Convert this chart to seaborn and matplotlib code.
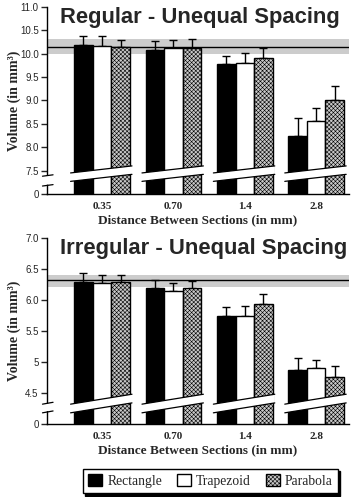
import numpy as np
import pandas as pd
import matplotlib
matplotlib.use('Agg')
import matplotlib.pyplot as plt
import matplotlib.transforms as mtransforms
import seaborn as sns

spacing = ["0.35", "0.70", "1.4", "2.8"]
methods = ["Rectangle", "Trapezoid", "Parabola"]

# Regular - unequal spacing (mm^3)
reg_rect = [10.18, 10.09, 9.77, 8.23]
reg_trap = [10.16, 10.12, 9.81, 8.57]
reg_parab = [10.14, 10.13, 9.91, 9.02]
reg_rect_err = [0.19, 0.19, 0.19, 0.40]
reg_trap_err = [0.21, 0.18, 0.21, 0.27]
reg_parab_err = [0.16, 0.18, 0.22, 0.29]
reg_true = 10.14
reg_band = (10.00, 10.31)

# Irregular - unequal spacing (mm^3)
irr_rect = [6.29, 6.20, 5.74, 4.87]
irr_trap = [6.27, 6.15, 5.74, 4.90]
irr_parab = [6.29, 6.19, 5.93, 4.76]
irr_rect_err = [0.14, 0.12, 0.14, 0.19]
irr_trap_err = [0.13, 0.12, 0.17, 0.14]
irr_parab_err = [0.12, 0.12, 0.16, 0.18]
irr_true = 6.32
irr_band = (6.21, 6.40)

reg_ticks = [7.0, 7.5, 8.0, 8.5, 9.0, 9.5, 10.0, 10.5, 11.0]
reg_ticklabels = ["0", "7.5", "8.0", "8.5", "9.0", "9.5", "10.0", "10.5", "11.0"]
irr_ticks = [4.0, 4.5, 5.0, 5.5, 6.0, 6.5, 7.0]
irr_ticklabels = ["0", "4.5", "5", "5.5", "6.0", "6.5", "7.0"]

sns.set_style('ticks')
plt.rcParams['font.family'] = ['Liberation Sans', 'DejaVu Sans']
plt.rcParams['hatch.color'] = '#555555'
plt.rcParams['hatch.linewidth'] = 0.4

colors = ['black', 'white', '#c8c8c8']

fig = plt.figure(figsize=(3.57, 4.97), dpi=100)
ax1 = fig.add_axes([0.1317, 0.6097, 0.846, 0.3763])
ax2 = fig.add_axes([0.1317, 0.1469, 0.846, 0.3742])


def panel(ax, vals, errs, true_val, band, ticks, ticklabels, title,
          brk_bottom, brk_thick, brk_rise, ax_brk):
    df = pd.DataFrame({
        'spacing': spacing * 3,
        'method': np.repeat(methods, 4),
        'volume': np.concatenate(vals),
    })
    sns.barplot(data=df, x='spacing', y='volume', hue='method', hue_order=methods,
                palette=colors, edgecolor='black', linewidth=1.0, width=0.78,
                errorbar=None, legend=False, ax=ax, zorder=2, saturation=1)
    for k, (cont, err) in enumerate(zip(ax.containers, errs)):
        if k == 2:
            for p in cont.patches:
                p.set_hatch('xxxxxxxx')
        xs = [p.get_x() + p.get_width() / 2 for p in cont.patches]
        ys = [p.get_height() for p in cont.patches]
        ax.errorbar(xs, ys, yerr=[np.zeros(len(err)), err], fmt='none',
                    ecolor='black', elinewidth=1.0, capsize=3, capthick=1.0, zorder=1.5)

    ax.axhspan(band[0], band[1], color='#cccccc', zorder=0.5, lw=0)
    ax.axhline(true_val, color='black', lw=1.0, zorder=0.6)

    ax.set_xlim(-0.77, 3.46)
    ax.set_ylim(ticks[0], ticks[-1])
    ax.set_yticks(ticks)
    ax.set_yticklabels(ticklabels, fontsize=7)
    ax.set_xticks(range(4))
    ax.set_xticklabels(spacing, fontsize=8, fontweight='bold', family='Liberation Serif')
    ax.tick_params(axis='x', length=0, pad=6)
    ax.tick_params(axis='y', length=4, width=1, pad=2)
    for s in ['top', 'right']:
        ax.spines[s].set_visible(False)
    for s in ['left', 'bottom']:
        ax.spines[s].set_linewidth(1.0)
        ax.spines[s].set_color('black')
    ax.set_xlabel('Distance Between Sections (in mm)', fontsize=9.5,
                  fontweight='bold', family='Liberation Serif', labelpad=2)
    ax.set_ylabel('Volume (in mm³)', fontsize=10, fontweight='bold',
                  family='Liberation Serif')
    ax.yaxis.set_label_coords(-0.085, 0.5)
    ax.text(0.043, 1.0, title, transform=ax.transAxes, ha='left', va='top',
            fontsize=15.8, fontweight='bold')

    # broken-axis bands across each group of bars
    for i in range(4):
        x0, x1 = i - 0.44, i + 0.42
        xs = [x0, x1, x1, x0]
        ys = [brk_bottom, brk_bottom + brk_rise,
              brk_bottom + brk_rise + brk_thick, brk_bottom + brk_thick]
        ax.fill(xs, ys, color='white', zorder=3, lw=0)
        ax.plot([x0, x1], [brk_bottom, brk_bottom + brk_rise], color='black', lw=0.9, zorder=3.1)
        ax.plot([x0, x1], [brk_bottom + brk_thick, brk_bottom + brk_thick + brk_rise],
                color='black', lw=0.9, zorder=3.1)

    # break on the y-axis
    tr = mtransforms.blended_transform_factory(ax.transAxes, ax.transData)
    lo, hi = ax_brk
    ax.fill([-0.02, 0.03, 0.03, -0.02], [lo + 0.02, lo + 0.04, hi + 0.02, hi],
            color='white', transform=tr, clip_on=False, zorder=4, lw=0)
    ax.plot([-0.015, 0.02], [lo, lo + 0.03], color='black', lw=0.9,
            transform=tr, clip_on=False, zorder=4.1)
    ax.plot([-0.015, 0.02], [hi, hi + 0.03], color='black', lw=0.9,
            transform=tr, clip_on=False, zorder=4.1)


panel(ax1, [reg_rect, reg_trap, reg_parab], [reg_rect_err, reg_trap_err, reg_parab_err],
      reg_true, reg_band, reg_ticks, reg_ticklabels, 'Regular - Unequal Spacing',
      7.27, 0.18, 0.15, (7.17, 7.38))
panel(ax2, [irr_rect, irr_trap, irr_parab], [irr_rect_err, irr_trap_err, irr_parab_err],
      irr_true, irr_band, irr_ticks, irr_ticklabels, 'Irregular - Unequal Spacing',
      4.18, 0.14, 0.16, (4.18, 4.32))

handles = list(ax2.containers[:3])
leg = fig.legend(handles, methods, loc='center', bbox_to_anchor=(0.59, 0.032),
                 ncol=3, frameon=True, fancybox=False,
                 shadow={'color': 'black', 'alpha': 1, 'ox': 1.5, 'oy': -1.5},
                 edgecolor='black', handlelength=1.0, handleheight=1.0,
                 handletextpad=0.4, columnspacing=1.1, borderpad=0.4,
                 prop={'family': 'Liberation Serif', 'size': 9.8})
leg.get_frame().set_linewidth(1.0)

fig.savefig('out.png', dpi=100)
